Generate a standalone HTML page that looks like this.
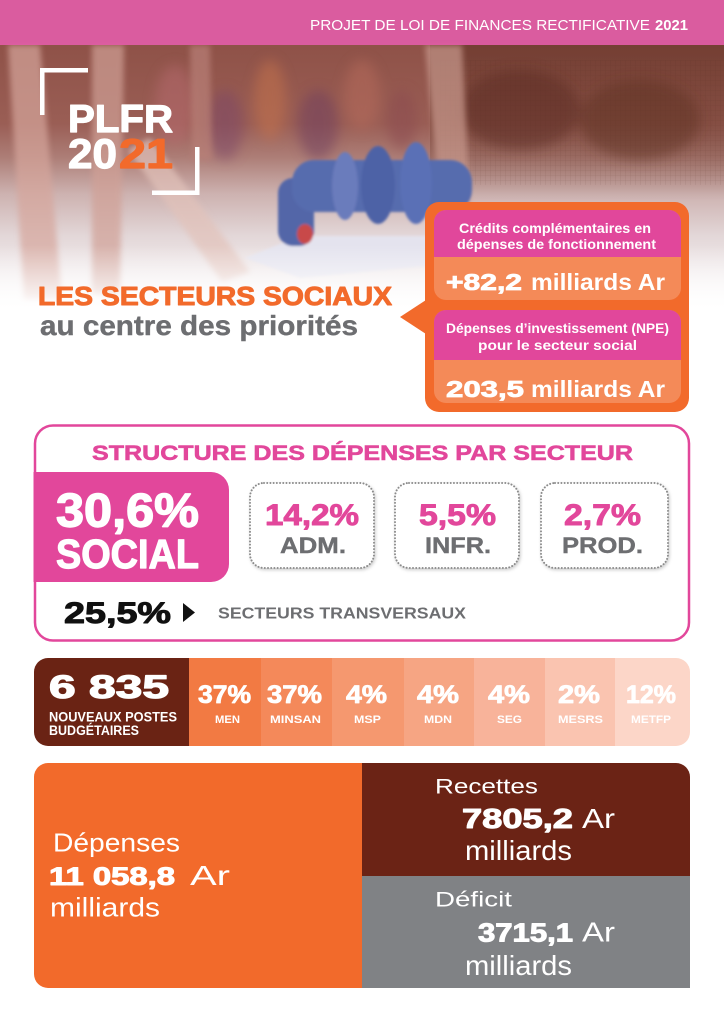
<!DOCTYPE html>
<html><head><meta charset="utf-8">
<style>html,body{margin:0;padding:0;background:#fff;width:724px;height:1024px;overflow:hidden}svg{display:block}</style>
</head>
<body>
<svg width="724" height="1024" viewBox="0 0 724 1024" xmlns="http://www.w3.org/2000/svg" font-family="'Liberation Sans', Arial, sans-serif">
<defs>
  <linearGradient id="bg" x1="0" y1="40" x2="0" y2="320" gradientUnits="userSpaceOnUse">
    <stop offset="0" stop-color="#8e5147"/>
    <stop offset="0.3" stop-color="#9a5e55"/>
    <stop offset="0.42" stop-color="#ad7e77"/>
    <stop offset="0.55" stop-color="#cdb2b0"/>
    <stop offset="0.7" stop-color="#e3d7d8"/>
    <stop offset="0.85" stop-color="#f3eeef"/>
    <stop offset="1" stop-color="#ffffff"/>
  </linearGradient>
  <linearGradient id="fenceG" x1="0" y1="45" x2="0" y2="200" gradientUnits="userSpaceOnUse">
    <stop offset="0" stop-color="#5e2f22" stop-opacity="0.55"/>
    <stop offset="0.6" stop-color="#6a3a2c" stop-opacity="0.4"/>
    <stop offset="1" stop-color="#6a3a2c" stop-opacity="0"/>
  </linearGradient>
  <linearGradient id="fade" x1="0" y1="245" x2="0" y2="310" gradientUnits="userSpaceOnUse">
    <stop offset="0" stop-color="#fff" stop-opacity="0"/>
    <stop offset="1" stop-color="#fff" stop-opacity="1"/>
  </linearGradient>
  <pattern id="grid" width="5" height="5" patternUnits="userSpaceOnUse">
    <path d="M0 0 V5 M0 0 H5" stroke="#4a2418" stroke-width="0.6" opacity="0.35"/>
  </pattern>
  <filter id="b6" x="-50%" y="-50%" width="200%" height="200%"><feGaussianBlur stdDeviation="6"/></filter>
  <filter id="b3" x="-50%" y="-50%" width="200%" height="200%"><feGaussianBlur stdDeviation="3"/></filter>
  <filter id="b1" x="-20%" y="-20%" width="140%" height="140%"><feGaussianBlur stdDeviation="1.2"/></filter>
  <filter id="sh" x="-10%" y="-10%" width="120%" height="130%"><feDropShadow dx="1" dy="1.5" stdDeviation="1.5" flood-opacity="0.22"/></filter>
  <clipPath id="photo"><rect x="0" y="0" width="724" height="330"/></clipPath>
  <clipPath id="rowclip"><rect x="34" y="658" width="656" height="88" rx="14"/></clipPath>
  <clipPath id="botclip"><path d="M48,763 H676 A14,14 0 0 1 690,777 V988 H48 A14,14 0 0 1 34,974 V777 A14,14 0 0 1 48,763 Z"/></clipPath>
</defs>

<!-- PHOTO BACKGROUND -->
<g clip-path="url(#photo)">
  <rect x="0" y="0" width="724" height="330" fill="url(#bg)"/>
  <rect x="430" y="40" width="294" height="160" fill="url(#fenceG)"/>
  <rect x="440" y="60" width="284" height="125" fill="url(#grid)" opacity="0.6"/>
  <g filter="url(#b6)" opacity="0.5">
    <ellipse cx="175" cy="105" rx="20" ry="40" fill="#b86a70"/>
    <ellipse cx="225" cy="125" rx="18" ry="35" fill="#7a4468"/>
    <ellipse cx="270" cy="100" rx="16" ry="40" fill="#c8744c"/>
    <ellipse cx="318" cy="125" rx="20" ry="35" fill="#6e3e5e"/>
    <ellipse cx="362" cy="95" rx="18" ry="35" fill="#b86c5c"/>
    <ellipse cx="402" cy="120" rx="15" ry="30" fill="#8a4a50"/>
    <ellipse cx="520" cy="110" rx="60" ry="40" fill="#5a2c22"/>
    <ellipse cx="640" cy="120" rx="60" ry="40" fill="#5e3024"/>
  </g>
  <g filter="url(#b3)" opacity="0.7">
    <polygon points="8,45 40,45 62,300 24,300" fill="#d6a69c"/>
    <polygon points="92,45 124,45 120,295 92,295" fill="#d0a096"/>
    <polygon points="128,150 150,138 250,272 222,282" fill="#e2c2ba"/>
    <polygon points="425,45 462,45 470,205 440,205" fill="#c99a8e"/>
    <polygon points="190,45 210,45 212,160 192,160" fill="#b98078"/>
  </g>
  <g filter="url(#b1)">
    <polygon points="245,258 300,236 470,236 470,262 300,278" fill="#e4e3ee"/>
    <rect x="278" y="178" width="36" height="68" rx="15" fill="#5266a8"/>
    <rect x="292" y="160" width="180" height="52" rx="22" fill="#566cae"/>
    <ellipse cx="345" cy="186" rx="13" ry="34" fill="#6a7cbc"/>
    <ellipse cx="378" cy="185" rx="17" ry="39" fill="#4e62a6"/>
    <ellipse cx="416" cy="183" rx="16" ry="41" fill="#5a70b6"/>
    <ellipse cx="305" cy="234" rx="8" ry="10" fill="#c84a48"/>
  </g>
  <rect x="0" y="245" width="724" height="66" fill="url(#fade)"/>
  <rect x="0" y="310" width="724" height="20" fill="#fff"/>
</g>

<!-- HEADER BAND -->
<rect x="0" y="0" width="724" height="45" fill="#e05ca6" opacity="0.93"/>
<text x="310" y="30" font-size="15" fill="#fff" textLength="340" lengthAdjust="spacingAndGlyphs">PROJET DE LOI DE FINANCES RECTIFICATIVE</text>
<text x="655" y="30" font-size="15" font-weight="bold" fill="#fff" textLength="33" lengthAdjust="spacingAndGlyphs">2021</text>

<!-- LOGO -->
<rect x="40" y="68" width="48" height="4.5" fill="#fff"/>
<rect x="40" y="68" width="4.5" height="47" fill="#fff"/>
<rect x="195" y="147" width="4.5" height="48" fill="#fff"/>
<rect x="152" y="190.5" width="47.5" height="4.5" fill="#fff"/>
<text x="68" y="132" font-size="38.5" font-weight="bold" fill="#fff" stroke="#fff" stroke-width="1.2" stroke-linejoin="round" textLength="105" lengthAdjust="spacingAndGlyphs">PLFR</text>
<text x="68" y="168" font-size="42" font-weight="bold" fill="#fff" stroke="#fff" stroke-width="1.2" stroke-linejoin="round" textLength="49" lengthAdjust="spacingAndGlyphs">20</text>
<text x="119" y="168" font-size="42" font-weight="bold" fill="#f26a2b" stroke="#f26a2b" stroke-width="1.2" stroke-linejoin="round" textLength="54" lengthAdjust="spacingAndGlyphs">21</text>

<!-- HEADLINE -->
<text x="38" y="305" font-size="26" font-weight="bold" fill="#f26a2b" stroke="#f26a2b" stroke-width="1" stroke-linejoin="round" textLength="354" lengthAdjust="spacingAndGlyphs">LES SECTEURS SOCIAUX</text>
<text x="40" y="335" font-size="28" font-weight="bold" fill="#6d6e71" stroke="#6d6e71" stroke-width="0.4" textLength="318" lengthAdjust="spacingAndGlyphs">au centre des priorités</text>

<!-- CALLOUT -->
<polygon points="426,300 400,317 426,334" fill="#f26a2b"/>
<rect x="425" y="202" width="264" height="210" rx="14" fill="#f26a2b"/>
<rect x="434" y="210" width="247" height="90" rx="12" fill="#f48a58"/>
<path d="M446,210 H669 A12,12 0 0 1 681,222 V257 H434 V222 A12,12 0 0 1 446,210 Z" fill="#e1479b"/>
<rect x="434" y="310" width="247" height="93" rx="12" fill="#f48a58"/>
<path d="M446,310 H669 A12,12 0 0 1 681,322 V360 H434 V322 A12,12 0 0 1 446,310 Z" fill="#e1479b"/>
<text x="459" y="233" font-size="13.5" font-weight="bold" fill="#fff" textLength="192" lengthAdjust="spacingAndGlyphs">Crédits complémentaires en</text>
<text x="457" y="249" font-size="13.5" font-weight="bold" fill="#fff" textLength="199" lengthAdjust="spacingAndGlyphs">dépenses de fonctionnement</text>
<text x="446" y="290" font-size="23" font-weight="bold" fill="#fff" stroke="#fff" stroke-width="0.8" textLength="76" lengthAdjust="spacingAndGlyphs">+82,2</text>
<text x="531" y="290" font-size="23" font-weight="bold" fill="#fff" textLength="134" lengthAdjust="spacingAndGlyphs">milliards Ar</text>
<text x="446" y="333" font-size="13.5" font-weight="bold" fill="#fff" textLength="223" lengthAdjust="spacingAndGlyphs">Dépenses d’investissement (NPE)</text>
<text x="478" y="350" font-size="13.5" font-weight="bold" fill="#fff" textLength="159" lengthAdjust="spacingAndGlyphs">pour le secteur social</text>
<text x="446" y="397" font-size="23" font-weight="bold" fill="#fff" stroke="#fff" stroke-width="0.8" textLength="78" lengthAdjust="spacingAndGlyphs">203,5</text>
<text x="531" y="397" font-size="23" font-weight="bold" fill="#fff" textLength="134" lengthAdjust="spacingAndGlyphs">milliards Ar</text>

<!-- STRUCTURE -->
<rect x="35" y="425.5" width="654" height="215" rx="18" fill="#fff" stroke="#e2479b" stroke-width="2.5"/>
<text x="92" y="460" font-size="21.5" font-weight="bold" fill="#e2479b" stroke="#e2479b" stroke-width="0.6" textLength="541" lengthAdjust="spacingAndGlyphs">STRUCTURE DES DÉPENSES PAR SECTEUR</text>
<path d="M33.5,472 H211 A18,18 0 0 1 229,490 V564 A18,18 0 0 1 211,582 H33.5 Z" fill="#e2479b"/>
<text x="56" y="526.5" font-size="47" font-weight="bold" fill="#fff" stroke="#fff" stroke-width="1.4" stroke-linejoin="round" textLength="143" lengthAdjust="spacingAndGlyphs">30,6%</text>
<text x="56" y="568" font-size="41" font-weight="bold" fill="#fff" stroke="#fff" stroke-width="1.2" stroke-linejoin="round" textLength="143" lengthAdjust="spacingAndGlyphs">SOCIAL</text>

<g fill="#fff" stroke="#8b8b8b" stroke-width="2" stroke-dasharray="0.01 3.2" stroke-linecap="round" filter="url(#sh)">
  <rect x="250" y="483" width="124" height="85" rx="14"/>
  <rect x="395" y="483" width="124" height="85" rx="14"/>
  <rect x="541" y="483" width="127" height="85" rx="14"/>
</g>
<g font-weight="bold" fill="#e2479b" stroke="#e2479b" stroke-width="0.9" stroke-linejoin="round" font-size="30">
  <text x="265" y="525" textLength="94" lengthAdjust="spacingAndGlyphs">14,2%</text>
  <text x="419" y="525" textLength="77" lengthAdjust="spacingAndGlyphs">5,5%</text>
  <text x="564" y="525" textLength="77" lengthAdjust="spacingAndGlyphs">2,7%</text>
</g>
<g font-weight="bold" fill="#6d6e71" stroke="#6d6e71" stroke-width="0.4" font-size="22">
  <text x="280" y="553" textLength="66" lengthAdjust="spacingAndGlyphs">ADM.</text>
  <text x="425" y="553" textLength="66" lengthAdjust="spacingAndGlyphs">INFR.</text>
  <text x="562" y="553" textLength="81" lengthAdjust="spacingAndGlyphs">PROD.</text>
</g>
<text x="64" y="623" font-size="30" font-weight="bold" fill="#111" stroke="#111" stroke-width="1" stroke-linejoin="round" textLength="107" lengthAdjust="spacingAndGlyphs">25,5%</text>
<polygon points="183,603 195,612.5 183,622" fill="#111"/>
<text x="218" y="618.3" font-size="16" font-weight="bold" fill="#6d6e71" textLength="248" lengthAdjust="spacingAndGlyphs">SECTEURS TRANSVERSAUX</text>

<!-- ROW -->
<g clip-path="url(#rowclip)">
  <rect x="34" y="658" width="156" height="88" fill="#6a2314"/>
  <rect x="189" y="658" width="73" height="88" fill="#f27a43"/>
  <rect x="261" y="658" width="72" height="88" fill="#f4895a"/>
  <rect x="332" y="658" width="73" height="88" fill="#f5986f"/>
  <rect x="404" y="658" width="71" height="88" fill="#f6a583"/>
  <rect x="474" y="658" width="72" height="88" fill="#f8b39a"/>
  <rect x="545" y="658" width="71" height="88" fill="#fac4b0"/>
  <rect x="615" y="658" width="75" height="88" fill="#fcd6c8"/>
</g>
<text x="49" y="698" font-size="32" font-weight="bold" fill="#fff" stroke="#fff" stroke-width="1.2" stroke-linejoin="round" textLength="120" lengthAdjust="spacingAndGlyphs">6 835</text>
<text x="49" y="721.5" font-size="13.5" font-weight="bold" fill="#fff" textLength="128" lengthAdjust="spacingAndGlyphs">NOUVEAUX POSTES</text>
<text x="49" y="735" font-size="13.5" font-weight="bold" fill="#fff" textLength="90" lengthAdjust="spacingAndGlyphs">BUDGÉTAIRES</text>
<g font-size="25" font-weight="bold" fill="#fff" stroke="#fff" stroke-width="0.8" stroke-linejoin="round">
  <text x="198" y="703" textLength="53" lengthAdjust="spacingAndGlyphs">37%</text>
  <text x="267" y="703" textLength="55" lengthAdjust="spacingAndGlyphs">37%</text>
  <text x="346" y="703" textLength="41" lengthAdjust="spacingAndGlyphs">4%</text>
  <text x="417" y="703" textLength="42" lengthAdjust="spacingAndGlyphs">4%</text>
  <text x="488" y="703" textLength="42" lengthAdjust="spacingAndGlyphs">4%</text>
  <text x="558" y="703" textLength="42" lengthAdjust="spacingAndGlyphs">2%</text>
  <text x="626" y="703" textLength="50" lengthAdjust="spacingAndGlyphs">12%</text>
</g>
<g font-size="11" font-weight="bold" fill="#fff">
  <text x="215" y="723" textLength="25" lengthAdjust="spacingAndGlyphs">MEN</text>
  <text x="270" y="723" textLength="51" lengthAdjust="spacingAndGlyphs">MINSAN</text>
  <text x="354" y="723" textLength="27" lengthAdjust="spacingAndGlyphs">MSP</text>
  <text x="424" y="723" textLength="28" lengthAdjust="spacingAndGlyphs">MDN</text>
  <text x="497" y="723" textLength="25" lengthAdjust="spacingAndGlyphs">SEG</text>
  <text x="558" y="723" textLength="45" lengthAdjust="spacingAndGlyphs">MESRS</text>
  <text x="631" y="723" textLength="40" lengthAdjust="spacingAndGlyphs">METFP</text>
</g>

<!-- BOTTOM -->
<g clip-path="url(#botclip)">
  <rect x="34" y="763" width="329" height="225" fill="#f26a2b"/>
  <rect x="362" y="763" width="328" height="113" fill="#6b2315"/>
  <rect x="362" y="876" width="328" height="112" fill="#808285"/>
</g>
<g fill="#fff">
  <text x="53" y="851.7" font-size="26" textLength="127" lengthAdjust="spacingAndGlyphs">Dépenses</text>
  <text x="49" y="885" font-size="25" font-weight="bold" stroke="#fff" stroke-width="1" stroke-linejoin="round" textLength="126" lengthAdjust="spacingAndGlyphs">11 058,8</text>
  <text x="190" y="885" font-size="27.5" textLength="40" lengthAdjust="spacingAndGlyphs">Ar</text>
  <text x="50" y="916.7" font-size="27" textLength="110" lengthAdjust="spacingAndGlyphs">milliards</text>

  <text x="435" y="793.3" font-size="21.5" textLength="103" lengthAdjust="spacingAndGlyphs">Recettes</text>
  <text x="462" y="828" font-size="27.5" font-weight="bold" stroke="#fff" stroke-width="1" stroke-linejoin="round" textLength="111" lengthAdjust="spacingAndGlyphs">7805,2</text>
  <text x="582" y="828" font-size="27.5" textLength="33" lengthAdjust="spacingAndGlyphs">Ar</text>
  <text x="465" y="860" font-size="28" textLength="107" lengthAdjust="spacingAndGlyphs">milliards</text>

  <text x="435" y="906.7" font-size="21.5" textLength="77" lengthAdjust="spacingAndGlyphs">Déficit</text>
  <text x="478" y="941.5" font-size="26" font-weight="bold" stroke="#fff" stroke-width="1" stroke-linejoin="round" textLength="95" lengthAdjust="spacingAndGlyphs">3715,1</text>
  <text x="582" y="941.5" font-size="27.5" textLength="33" lengthAdjust="spacingAndGlyphs">Ar</text>
  <text x="465" y="975" font-size="28" textLength="107" lengthAdjust="spacingAndGlyphs">milliards</text>
</g>
</svg>
</body></html>
